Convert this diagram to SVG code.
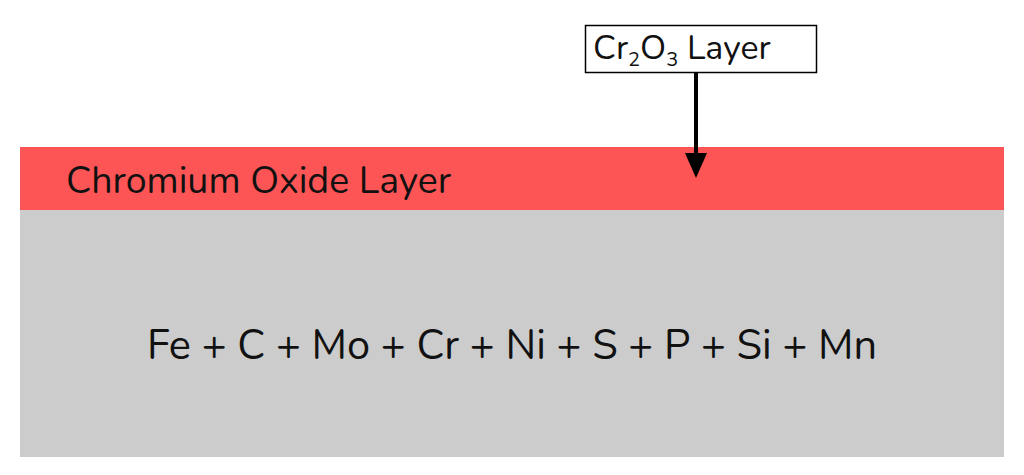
<svg xmlns="http://www.w3.org/2000/svg" width="1024" height="475" viewBox="0 0 1024 475">
<style>
text{font-family:Nunito,"Noto Sans","Open Sans",sans-serif;fill:#111}
</style>
<rect width="1024" height="475" fill="#fff"/>
<g id="base"><rect x="20" y="210" width="984" height="247" fill="#cccccc"/>
<text x="512" y="359" font-size="41.5" text-anchor="middle">Fe + C + Mo + Cr + Ni + S + P + Si + Mn</text></g>
<g id="oxide"><rect x="20" y="147" width="984" height="63" fill="#fd5555"/>
<text x="66" y="193" font-size="37.5">Chromium Oxide Layer</text></g>
<g id="label"><rect x="585.5" y="25.5" width="231" height="47" fill="#fff" stroke="#000" stroke-width="1.5"/>
<text x="593" y="59" font-size="34">Cr<tspan font-size="20" dy="7">2</tspan><tspan dy="-7">O</tspan><tspan font-size="20" dy="7">3</tspan><tspan dy="-7"> Layer</tspan></text></g>
<g id="connectors"><line x1="696" y1="72" x2="696" y2="156" stroke="#000" stroke-width="4"/>
<polygon points="685,153 707,153 696,178" fill="#000"/></g>
</svg>
